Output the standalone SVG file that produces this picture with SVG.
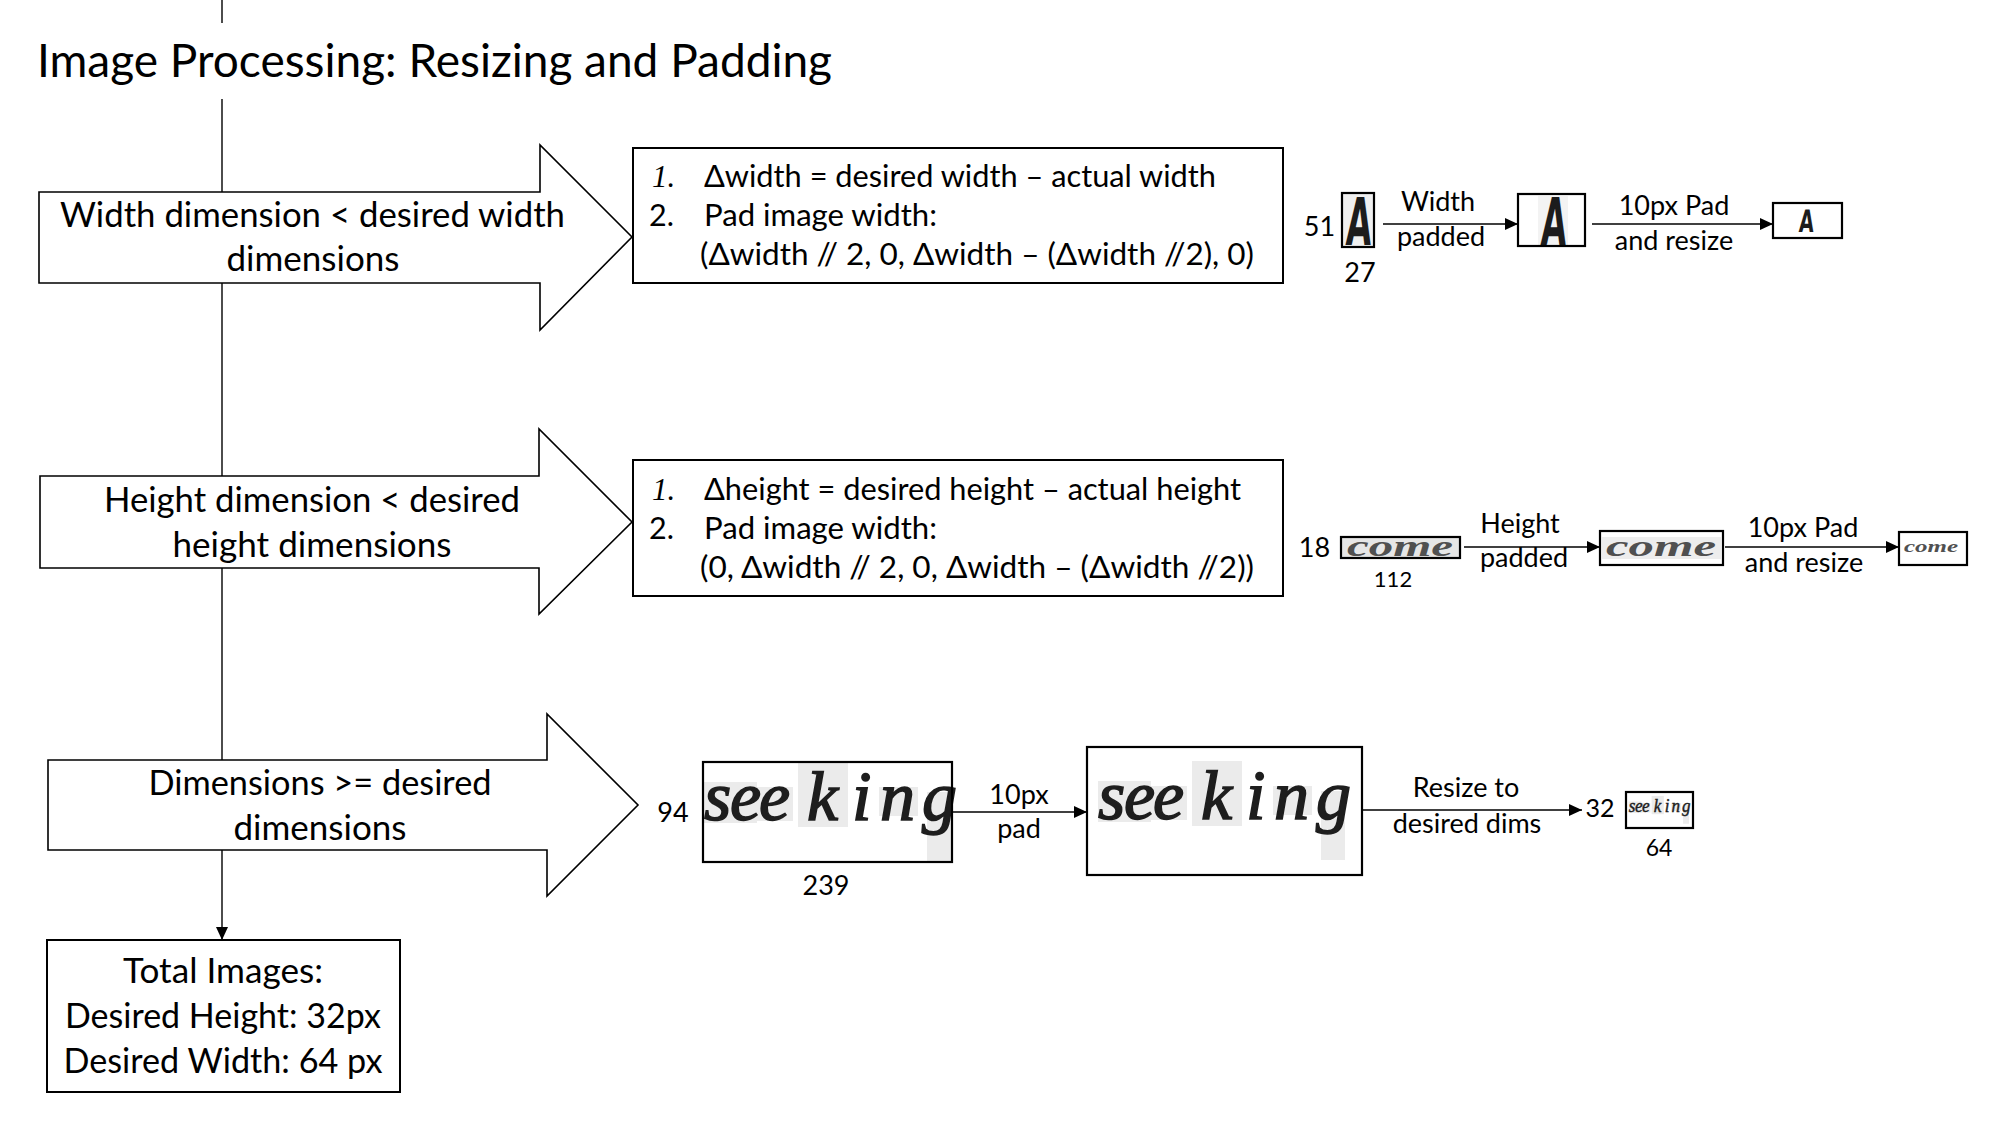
<svg xmlns="http://www.w3.org/2000/svg" xmlns:xlink="http://www.w3.org/1999/xlink" width="2000" height="1125" viewBox="0 0 2000 1125">
<style>
.t{font-family:Lato,"Open Sans","Liberation Sans",sans-serif;fill:#000}
.big{font-size:34.5px}
.mid{font-size:30.5px}
.sm{font-size:27px}
.c{text-anchor:middle}
.num1{font-family:"Liberation Serif",serif;font-style:italic;font-size:31px}
.blk{fill:#fff;stroke:#000;stroke-width:1.6}
.box{fill:#fff;stroke:#000;stroke-width:2}
.ibox{fill:none;stroke:#000;stroke-width:2.2}
.ln{stroke:#000;stroke-width:1.4;fill:none}
.hand{font-family:"Liberation Serif",serif;font-style:italic;fill:#1e1e1e;stroke:#1e1e1e;stroke-width:1.6}
.patch{fill:#ebebeb}
.ahand{font-family:"DejaVu Sans",sans-serif;font-weight:bold;fill:#1c1c1c}
.chand{font-family:"Liberation Serif",serif;font-style:italic;font-weight:bold;fill:#505050}
</style>
<defs>
<marker id="ah" markerUnits="userSpaceOnUse" markerWidth="13" markerHeight="12" refX="13" refY="6" orient="auto">
<path d="M0,0 L13,6 L0,12 z" fill="#000"/>
</marker>
<g id="seek">
<rect class="patch" x="704" y="782" width="53" height="41"/>
<rect class="patch" x="757" y="787" width="36" height="34"/>
<rect class="patch" x="798" y="762" width="50" height="65"/>
<rect class="patch" x="879" y="787" width="39" height="29"/>
<rect class="patch" x="927" y="792" width="24" height="69"/>
<text class="hand" font-size="70" y="820"><tspan x="704">s</tspan><tspan x="730">e</tspan><tspan x="759">e</tspan><tspan x="807">k</tspan><tspan x="852">i</tspan><tspan x="880">n</tspan><tspan x="922">g</tspan></text>
</g>
</defs>
<rect width="2000" height="1125" fill="#fff"/>

<g id="connectors">
<line class="ln" x1="222" y1="0" x2="222" y2="23"/>
<line class="ln" x1="222" y1="99" x2="222" y2="940" marker-end="url(#ah)"/>
<line class="ln" x1="1383" y1="224" x2="1518" y2="224" marker-end="url(#ah)"/>
<line class="ln" x1="1592" y1="224" x2="1773" y2="224" marker-end="url(#ah)"/>
<line class="ln" x1="1464" y1="547" x2="1600" y2="547" marker-end="url(#ah)"/>
<line class="ln" x1="1725" y1="547" x2="1899" y2="547" marker-end="url(#ah)"/>
<line class="ln" x1="952" y1="812" x2="1087" y2="812" marker-end="url(#ah)"/>
<line class="ln" x1="1362" y1="810" x2="1582" y2="810" marker-end="url(#ah)"/>
</g>

<g id="title">
<text class="t" x="37" y="77" font-size="46" textLength="795" lengthAdjust="spacingAndGlyphs">Image Processing: Resizing and Padding</text>
</g>

<g id="arrow-width">
<polygon class="blk" points="39,192 540,192 540,145 632,237 540,330 540,283 39,283"/>
<text class="t big c" x="312.5" y="227" textLength="505" lengthAdjust="spacingAndGlyphs">Width dimension &lt; desired width</text>
<text class="t big c" x="313" y="271" textLength="173" lengthAdjust="spacingAndGlyphs">dimensions</text>
</g>

<g id="arrow-height">
<polygon class="blk" points="40,476 539,476 539,429 632,522 539,614 539,568 40,568"/>
<text class="t big c" x="312" y="512" textLength="416" lengthAdjust="spacingAndGlyphs">Height dimension &lt; desired</text>
<text class="t big c" x="312" y="557" textLength="279" lengthAdjust="spacingAndGlyphs">height dimensions</text>
</g>

<g id="arrow-dims">
<polygon class="blk" points="48,760 547,760 547,714 638,805 547,896 547,850 48,850"/>
<text class="t big c" x="320" y="795" textLength="343" lengthAdjust="spacingAndGlyphs">Dimensions &gt;= desired</text>
<text class="t big c" x="320" y="840" textLength="173" lengthAdjust="spacingAndGlyphs">dimensions</text>
</g>

<g id="box-width-steps">
<rect class="box" x="633" y="148" width="650" height="135"/>
<text class="num1" x="652" y="187">1.</text>
<text class="t mid" x="704" y="187" textLength="512" lengthAdjust="spacingAndGlyphs">Δwidth = desired width – actual width</text>
<text class="t mid" x="649" y="226">2.</text>
<text class="t mid" x="704" y="226" textLength="233" lengthAdjust="spacingAndGlyphs">Pad image width:</text>
<text class="t mid" x="700" y="265" textLength="554" lengthAdjust="spacingAndGlyphs">(Δwidth // 2, 0, Δwidth – (Δwidth //2), 0)</text>
</g>

<g id="box-height-steps">
<rect class="box" x="633" y="460" width="650" height="136"/>
<text class="num1" x="652" y="500">1.</text>
<text class="t mid" x="704" y="500" textLength="537" lengthAdjust="spacingAndGlyphs">Δheight = desired height – actual height</text>
<text class="t mid" x="649" y="539">2.</text>
<text class="t mid" x="704" y="539" textLength="233" lengthAdjust="spacingAndGlyphs">Pad image width:</text>
<text class="t mid" x="700" y="578" textLength="554" lengthAdjust="spacingAndGlyphs">(0, Δwidth // 2, 0, Δwidth – (Δwidth //2))</text>
</g>

<g id="box-total">
<rect class="box" x="47" y="940" width="353" height="152"/>
<text class="t big c" x="223" y="983" textLength="200" lengthAdjust="spacingAndGlyphs">Total Images:</text>
<text class="t big c" x="223" y="1028" textLength="316" lengthAdjust="spacingAndGlyphs">Desired Height: 32px</text>
<text class="t big c" x="223" y="1073" textLength="319" lengthAdjust="spacingAndGlyphs">Desired Width: 64 px</text>
</g>

<!-- Row 1: width padding example -->
<g id="img-a-original">
<rect x="1343" y="194" width="30" height="52" fill="#f0f0f0"/>
<text class="ahand" font-size="66" text-anchor="middle" transform="translate(1358,245) scale(0.5,1) skewX(-6)">A</text>
<rect class="ibox" x="1342" y="193" width="32" height="54"/>
<text class="t sm c" x="1319.5" y="236">51</text>
<text class="t sm c" x="1360" y="282">27</text>
</g>
<g id="label-width-padded">
<text class="t sm c" x="1438" y="211">Width</text>
<text class="t sm c" x="1441" y="246">padded</text>
</g>
<g id="img-a-padded">
<rect x="1538" y="196" width="30" height="49" fill="#f3f3f3"/>
<text class="ahand" font-size="66" text-anchor="middle" transform="translate(1553,245) scale(0.5,1) skewX(-6)">A</text>
<rect class="ibox" x="1518" y="194" width="67" height="52"/>
</g>
<g id="label-pad-resize-1">
<text class="t sm c" x="1674" y="215">10px Pad</text>
<text class="t sm c" x="1674" y="250">and resize</text>
</g>
<g id="img-a-final">
<text class="ahand" font-size="31" text-anchor="middle" transform="translate(1806,232) scale(0.62,1) skewX(-6)">A</text>
<rect class="ibox" x="1773" y="203" width="69" height="35"/>
</g>

<!-- Row 2: height padding example -->
<g id="img-come-original">
<rect x="1342" y="538" width="117" height="19" fill="#e6e6e6"/>
<text class="chand" font-size="30" x="1347" y="556" textLength="106" lengthAdjust="spacingAndGlyphs">come</text>
<rect class="ibox" x="1341" y="537" width="119" height="21"/>
<text class="t sm c" x="1314.5" y="557">18</text>
<text class="t c" font-size="22" x="1393" y="587">112</text>
</g>
<g id="label-height-padded">
<text class="t sm c" x="1520" y="533">Height</text>
<text class="t sm c" x="1524" y="567">padded</text>
</g>
<g id="img-come-padded">
<rect x="1602" y="537" width="119" height="22" fill="#ededed"/>
<text class="chand" font-size="30" x="1606" y="556" textLength="110" lengthAdjust="spacingAndGlyphs">come</text>
<rect class="ibox" x="1600" y="531" width="123" height="34"/>
</g>
<g id="label-pad-resize-2">
<text class="t sm c" x="1803" y="537">10px Pad</text>
<text class="t sm c" x="1804" y="572">and resize</text>
</g>
<g id="img-come-final">
<text class="chand" font-size="16" x="1904" y="552" textLength="54" lengthAdjust="spacingAndGlyphs">come</text>
<rect class="ibox" x="1899" y="532" width="68" height="33"/>
</g>

<!-- Row 3: large image example -->
<g id="img-seeking-original">
<use xlink:href="#seek" href="#seek"/>
<rect class="ibox" x="703" y="762" width="249" height="100"/>
<text class="t sm c" x="673" y="822">94</text>
<text class="t sm c" x="826" y="895">239</text>
</g>
<g id="label-10px-pad">
<text class="t sm c" x="1019" y="804">10px</text>
<text class="t sm c" x="1019" y="838">pad</text>
</g>
<g id="img-seeking-padded">
<use xlink:href="#seek" href="#seek" transform="translate(394,-1)"/>
<rect class="ibox" x="1087" y="747" width="275" height="128"/>
</g>
<g id="label-resize">
<text class="t sm c" x="1466" y="797">Resize to</text>
<text class="t sm c" x="1467" y="833">desired dims</text>
</g>
<g id="img-seeking-final">
<use xlink:href="#seek" href="#seek" transform="translate(1626,792) scale(0.244,0.281) translate(-693,-748)"/>
<rect class="ibox" x="1626" y="792" width="67" height="36"/>
<text class="t c" font-size="25" x="1600" y="817">32</text>
<text class="t c" font-size="23" x="1659" y="856">64</text>
</g>
</svg>
